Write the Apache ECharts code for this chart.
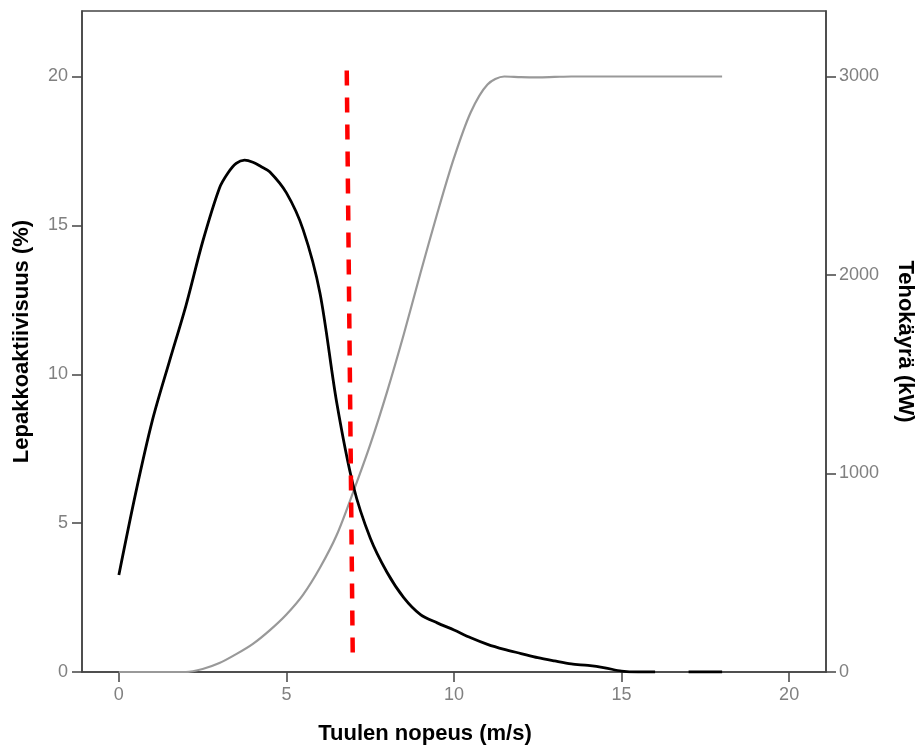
<!DOCTYPE html>
<html><head><meta charset="utf-8">
<script src="https://cdn.jsdelivr.net/npm/echarts@6/dist/echarts.min.js"></script>
<style>html,body{margin:0;padding:0;background:#fff}#c{width:922px;height:753px}</style>
</head><body><div id="c"></div>
<script>
// Bat activity (%) density vs wind speed (m/s)
const activitySpeed = [0, 0.5, 1.0, 1.5, 2.0, 2.5, 3.0, 3.25, 3.5, 3.75, 4.0, 4.25, 4.5, 5.0, 5.5, 6.0, 6.5, 7.0, 7.5, 8.0, 8.5, 9.0, 9.5, 10.0, 10.5, 11.0, 11.5, 12.0, 12.5, 13.0, 13.5, 14.0, 14.5, 15.0, 15.5, 16.0, null, 17.0, 17.5, 18.0];
const activityPct   = [3.26, 6.0, 8.45, 10.4, 12.3, 14.45, 16.25, 16.75, 17.08, 17.19, 17.12, 16.97, 16.8, 16.09, 14.85, 12.73, 9.05, 6.23, 4.5, 3.35, 2.5, 1.93, 1.65, 1.41, 1.15, 0.93, 0.76, 0.62, 0.48, 0.37, 0.27, 0.22, 0.14, 0.03, 0, 0, null, 0, 0, 0];
// Power curve (kW) vs wind speed
const powerSpeed = [0, 0.5, 1.0, 1.5, 2.0, 2.5, 3.0, 3.5, 4.0, 4.5, 5.0, 5.5, 6.0, 6.5, 7.0, 7.5, 8.0, 8.5, 9.0, 9.5, 10.0, 10.5, 11.0, 11.5, 12.0, 12.5, 13.0, 13.5, 14.0, 15.0, 16.0, 17.0, 18.0];
const powerKW    = [0, 0, 0, 0, 0, 15, 45, 90, 142, 210, 290, 390, 525, 690, 910, 1145, 1410, 1700, 2010, 2310, 2590, 2820, 2960, 3000, 2997, 2996, 2998, 3000, 3000, 3000, 3000, 3000, 3000];
// Cut-in marker line
const cutInX = [6.8, 6.98];
const cutInY = [20.2, 0.4];
// Tick labels
const xTicks = [0, 5, 10, 15, 20];
const leftTicks = [0, 5, 10, 15, 20];
const rightTicks = [0, 1000, 2000, 3000];

const pair = (xs, ys) => xs.map((x, i) => (x === null ? [null, null] : [x, ys[i]]));

const axisCol = '#444';
const labCol = '#808080';
const font = 'Arial, "Liberation Sans", sans-serif';
const plain = v => String(v);

const chart = echarts.init(document.getElementById('c'), null, {renderer: 'canvas'});
chart.setOption({
  animation: false,
  backgroundColor: '#fff',
  grid: {left: 82, right: 96, top: 11, bottom: 81, containLabel: false, outerBoundsMode: 'none',
         show: true, borderColor: axisCol, borderWidth: 1.5, backgroundColor: 'transparent'},
  xAxis: {
    type: 'value', min: -1.1, max: 21.1,
    name: 'Tuulen nopeus (m/s)', nameLocation: 'middle', nameGap: 51,
    nameTextStyle: {fontFamily: font, fontSize: 22, fontWeight: 'bold', color: '#000', padding: [0, 58, 0, 0]},
    axisLine: {show: true, onZero: false, lineStyle: {color: axisCol, width: 1.5}},
    axisTick: {show: true, inside: false, length: 10, customValues: xTicks, lineStyle: {color: axisCol, width: 1.5}},
    axisLabel: {show: true, margin: 14, customValues: xTicks, formatter: plain, fontFamily: font, fontSize: 18, color: labCol},
    splitLine: {show: false}
  },
  yAxis: [{
    type: 'value', min: 0, max: 22.2, position: 'left',
    name: 'Lepakkoaktiivisuus (%)', nameLocation: 'middle', nameGap: 49,
    nameTextStyle: {fontFamily: font, fontSize: 22, fontWeight: 'bold', color: '#000'},
    axisLine: {show: true, onZero: false, lineStyle: {color: axisCol, width: 1.5}},
    axisTick: {show: true, inside: false, length: 10, customValues: leftTicks, lineStyle: {color: axisCol, width: 1.5}},
    axisLabel: {show: true, margin: 14, customValues: leftTicks, formatter: plain, fontFamily: font, fontSize: 18, color: labCol},
    splitLine: {show: false}
  }, {
    type: 'value', min: 0, max: 3330, position: 'right',
    name: 'Tehokäyrä (kW)', nameLocation: 'middle', nameGap: 68, nameRotate: -90,
    nameTextStyle: {fontFamily: font, fontSize: 22, fontWeight: 'bold', color: '#000'},
    axisLine: {show: true, onZero: false, lineStyle: {color: axisCol, width: 1.5}},
    axisTick: {show: true, inside: false, length: 10, customValues: rightTicks, lineStyle: {color: axisCol, width: 1.5}},
    axisLabel: {show: true, margin: 13, customValues: rightTicks, formatter: plain, fontFamily: font, fontSize: 18, color: labCol},
    splitLine: {show: false}
  }],
  series: [{
    type: 'line', yAxisIndex: 1, data: pair(powerSpeed, powerKW),
    smooth: 0.3, symbol: 'none',
    lineStyle: {color: '#999', width: 2.2}
  }, {
    type: 'line', yAxisIndex: 0, data: pair(activitySpeed, activityPct), connectNulls: false,
    smooth: 0.3, symbol: 'none',
    lineStyle: {color: '#000', width: 2.8}
  }, {
    type: 'line', yAxisIndex: 0, data: pair(cutInX, cutInY),
    symbol: 'none', lineStyle: {color: '#ff0000', width: 4.5, type: [15, 12]}
  }]
});
</script></body></html>
